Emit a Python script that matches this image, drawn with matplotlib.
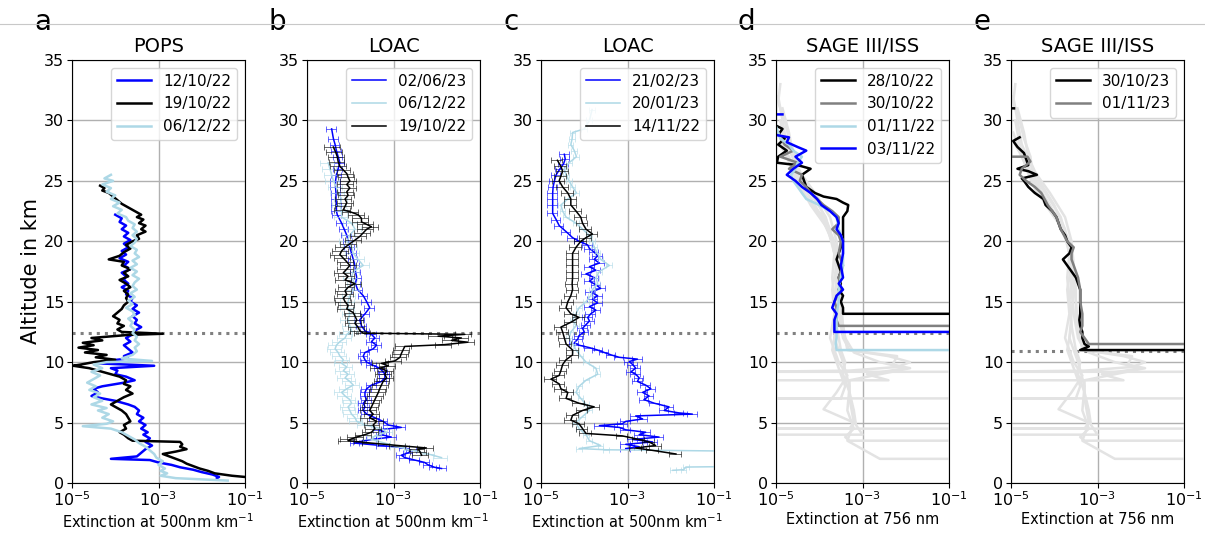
import numpy as np
import matplotlib.pyplot as plt
from matplotlib.lines import Line2D
from matplotlib.ticker import NullLocator

# extinction values are given as log10 exponents

# ---- panel a: POPS
a_121022_alt = [22.2, 21.9, 21.6, 21.3, 21.0, 20.7, 20.4, 20.1, 19.8, 19.5, 19.2, 18.9, 18.6, 18.3, 18.0, 17.7,
                17.4, 17.1, 16.8, 16.5, 16.2, 15.9, 15.6, 15.3, 15.0, 14.7, 14.4, 14.1, 13.8, 13.5, 13.2, 12.9,
                12.6, 12.3, 12.0, 11.7, 11.4, 11.1, 10.8, 10.5, 10.3, 10.1, 9.9, 9.7, 9.5, 9.3, 9.0, 8.8, 8.5,
                8.3, 8.0, 7.8, 7.5, 7.2, 7.0, 6.8, 6.5, 6.3, 6.0, 5.7, 5.4, 5.1, 4.8, 4.5, 4.2, 4.0, 3.7, 3.4,
                3.1, 2.8, 2.5, 2.2, 2.0, 1.9, 1.7, 1.5, 1.3, 1.1, 0.9, 0.7, 0.5, 0.4]
a_121022_ext = [-4.0, -3.85, -3.9, -3.75, -3.85, -3.7, -3.8, -3.65, -3.8, -3.7, -3.85, -3.75, -3.9, -3.7, -3.8,
                -3.65, -3.85, -3.75, -3.8, -3.7, -3.85, -3.7, -3.75, -3.6, -3.65, -3.5, -3.6, -3.45, -3.6, -3.5,
                -3.55, -3.4, -3.55, -3.6, -3.75, -3.65, -3.8, -3.7, -3.6, -3.8, -3.7, -4.2, -4.4, -3.1, -4.1,
                -3.95, -4.0, -3.75, -3.55, -3.8, -4.3, -4.5, -4.4, -4.55, -4.3, -4.0, -3.7, -3.55, -3.45, -3.5,
                -3.35, -3.45, -3.3, -3.4, -3.25, -3.35, -3.2, -3.3, -3.15, -3.3, -3.4, -3.5, -4.1, -3.2, -3.0,
                -2.7, -2.5, -2.2, -2.0, -1.75, -1.6, -1.65]

a_191022_alt = [24.6, 24.4, 24.2, 24.0, 23.7, 23.4, 23.1, 22.8, 22.5, 22.2, 22.0, 21.8, 21.5, 21.3, 21.0, 20.8,
                20.5, 20.2, 20.0, 19.7, 19.4, 19.1, 18.8, 18.5, 18.3, 18.0, 17.7, 17.4, 17.1, 16.8, 16.5, 16.2,
                15.9, 15.6, 15.3, 15.0, 14.7, 14.4, 14.1, 13.8, 13.5, 13.2, 13.0, 12.7, 12.5, 12.35, 12.25,
                12.0, 11.8, 11.6, 11.4, 11.2, 11.0, 10.8, 10.6, 10.4, 10.2, 10.0, 9.8, 9.7, 9.5, 9.3, 9.0, 8.8,
                8.5, 8.2, 8.0, 7.7, 7.4, 7.1, 6.8, 6.5, 6.2, 6.0, 5.7, 5.4, 5.1, 4.8, 4.5, 4.2, 4.0, 3.7, 3.5,
                3.4, 3.2, 3.0, 2.8, 2.6, 2.4, 2.2, 2.0, 1.8, 1.6, 1.4, 1.2, 1.0, 0.8, 0.6, 0.5, 0.4]
a_191022_ext = [-4.35, -4.25, -4.3, -4.15, -4.05, -3.95, -3.85, -3.7, -3.55, -3.4, -3.5, -3.35, -3.45, -3.3, -3.4,
                -3.3, -3.5, -3.45, -3.6, -3.75, -3.65, -3.8, -3.9, -4.15, -3.8, -3.85, -3.65, -3.8, -3.7, -3.9,
                -3.75, -3.65, -3.8, -3.7, -3.75, -3.7, -3.8, -3.85, -3.95, -4.05, -3.9, -3.95, -3.8, -3.95, -3.85,
                -2.9, -3.7, -4.55, -4.3, -4.75, -4.5, -4.85, -4.4, -4.7, -4.2, -4.45, -4.0, -4.5, -4.8, -4.97,
                -4.6, -4.4, -4.1, -3.9, -3.75, -3.8, -3.65, -3.75, -3.6, -3.8, -3.95, -4.1, -3.95, -3.85, -3.75,
                -3.7, -3.65, -3.8, -3.75, -3.9, -3.8, -3.7, -3.6, -2.5, -2.45, -2.5, -2.35, -2.6, -2.9, -2.75,
                -2.6, -2.45, -2.35, -2.2, -2.05, -1.85, -1.7, -1.3, -1.0, -0.9]

a_061222_alt = [25.5, 25.2, 25.0, 24.7, 24.4, 24.1, 23.8, 23.5, 23.2, 22.9, 22.6, 22.3, 22.0, 21.7, 21.4, 21.1,
                20.8, 20.5, 20.2, 19.9, 19.6, 19.3, 19.0, 18.7, 18.4, 18.1, 17.8, 17.5, 17.2, 16.9, 16.6, 16.3,
                16.0, 15.7, 15.4, 15.1, 14.8, 14.5, 14.2, 13.9, 13.6, 13.3, 13.0, 12.7, 12.4, 12.1, 11.8, 11.5,
                11.2, 10.9, 10.6, 10.3, 10.1, 10.0, 9.8, 9.5, 9.2, 8.9, 8.6, 8.3, 8.0, 7.7, 7.4, 7.1, 6.8, 6.5,
                6.2, 6.0, 5.7, 5.4, 5.1, 4.9, 4.7, 4.5, 4.2, 3.9, 3.6, 3.3, 3.0, 2.7, 2.4, 2.1, 1.8, 1.5, 1.2,
                1.0, 0.8, 0.6, 0.4, 0.2]
a_061222_ext = [-4.1, -4.25, -4.05, -4.3, -4.1, -4.2, -4.0, -4.1, -3.9, -4.05, -3.85, -3.95, -3.75, -3.7, -3.55,
                -3.6, -3.5, -3.6, -3.5, -3.55, -3.65, -3.5, -3.55, -3.45, -3.6, -3.5, -3.65, -3.5, -3.6, -3.45,
                -3.55, -3.6, -3.5, -3.65, -3.55, -3.7, -3.6, -3.75, -3.6, -3.55, -3.7, -3.6, -3.65, -3.55, -3.6,
                -3.5, -3.55, -3.45, -3.55, -3.5, -3.6, -3.85, -3.15, -4.2, -4.5, -4.3, -4.55, -4.35, -4.5, -4.65,
                -4.45, -4.6, -4.35, -4.5, -4.3, -4.55, -4.2, -4.4, -4.15, -4.3, -4.05, -4.2, -4.75, -4.1, -3.85,
                -3.7, -3.55, -3.45, -3.3, -3.2, -3.1, -3.05, -2.9, -3.0, -2.85, -2.95, -2.8, -2.95, -2.6, -1.4]

# ---- panel b: LOAC
b_020623_alt = [29.3, 28.5, 28.0, 27.5, 27.0, 26.5, 26.0, 25.5, 25.0, 24.5, 24.0, 23.5, 23.0, 22.5, 22.2, 21.5,
                21.0, 20.5, 20.0, 19.5, 19.0, 18.5, 18.0, 17.5, 17.0, 16.5, 16.0, 15.5, 15.0, 14.5, 14.0, 13.5,
                13.0, 12.6, 12.3, 12.0, 11.7, 11.4, 11.1, 10.8, 10.5, 10.2, 10.0, 9.8, 9.5, 9.2, 9.0, 8.7, 8.4,
                8.1, 7.8, 7.5, 7.2, 6.9, 6.6, 6.3, 6.0, 5.7, 5.4, 5.1, 4.8, 4.6, 4.4, 4.2, 4.0, 3.8, 3.6, 3.4,
                3.3, 3.1, 2.9, 2.7, 2.5, 2.3, 2.1, 1.9, 1.7, 1.5, 1.3, 1.2]
b_020623_ext = [-4.43, -4.39, -4.35, -4.32, -4.28, -4.24, -4.28, -4.32, -4.34, -4.34, -4.33, -4.33, -4.32, -4.32,
                -4.30, -4.2, -4.14, -4.08, -4.05, -4.01, -3.97, -3.93, -3.89, -3.88, -3.85, -3.88, -3.83, -3.7,
                -3.62, -3.55, -3.66, -3.78, -3.74, -3.66, -3.51, -3.43, -3.51, -3.39, -3.47, -3.66, -3.7, -3.66,
                -3.62, -3.51, -3.32, -3.24, -3.2, -3.2, -3.28, -3.51, -3.62, -3.66, -3.66, -3.62, -3.7, -3.66,
                -3.7, -3.62, -3.43, -3.24, -3.12, -2.82, -3.35, -3.2, -3.28, -3.05, -3.51, -3.82, -3.89, -3.28,
                -2.74, -2.58, -2.66, -2.82, -2.74, -2.51, -2.28, -2.2, -2.05, -1.89]
b_020623_err = 0.25

b_061222_alt = [26.5, 26.0, 25.5, 25.0, 24.5, 24.0, 23.5, 23.0, 22.5, 22.0, 21.5, 21.0, 20.5, 20.0, 19.5, 19.0,
                18.5, 18.0, 17.5, 17.0, 16.5, 16.0, 15.5, 15.0, 14.5, 14.0, 13.5, 13.0, 12.6, 12.3, 12.0, 11.7,
                11.4, 11.1, 10.8, 10.5, 10.2, 9.9, 9.6, 9.3, 9.0, 8.7, 8.4, 8.1, 7.8, 7.5, 7.2, 6.9, 6.6, 6.3,
                6.0, 5.7, 5.4, 5.1, 4.8, 4.5, 4.2, 3.9, 3.6, 3.3, 3.0, 2.7, 2.4, 2.1]
b_061222_ext = [-4.51, -4.47, -4.43, -4.39, -4.32, -4.28, -4.2, -4.24, -4.2, -4.2, -3.97, -3.89, -4.01, -4.08,
                -3.97, -3.93, -3.82, -3.7, -3.93, -3.97, -3.89, -3.93, -4.01, -4.05, -4.05, -4.01, -4.05, -4.01,
                -3.97, -4.08, -4.12, -4.24, -4.32, -4.35, -4.28, -4.24, -4.16, -4.2, -4.08, -4.16, -4.05, -4.12,
                -4.01, -3.93, -4.08, -4.2, -4.12, -4.01, -3.97, -4.05, -4.01, -3.97, -3.89, -3.85, -3.66, -3.28,
                -3.16, -3.43, -3.51, -3.2, -2.89, -2.58, -2.2, -1.89]
b_061222_err = 0.35

b_191022_alt = [27.8, 27.4, 27.0, 26.6, 26.2, 25.9, 25.6, 25.3, 25.0, 24.7, 24.4, 24.1, 23.8, 23.5, 23.2, 22.9,
                22.6, 22.4, 22.2, 21.9, 21.6, 21.4, 21.2, 21.0, 20.7, 20.4, 20.1, 19.8, 19.5, 19.2, 18.9, 18.6,
                18.3, 18.0, 17.7, 17.4, 17.1, 16.8, 16.5, 16.2, 15.9, 15.6, 15.3, 15.0, 14.7, 14.4, 14.1, 13.8,
                13.5, 13.2, 12.9, 12.6, 12.4, 12.3, 12.15, 12.0, 11.8, 11.65, 11.45, 11.3, 11.0, 10.7, 10.4,
                10.1, 9.9, 9.7, 9.5, 9.3, 9.0, 8.7, 8.4, 8.1, 7.8, 7.5, 7.2, 6.9, 6.6, 6.3, 6.0, 5.7, 5.4, 5.1,
                4.8, 4.5, 4.2, 4.0, 3.8, 3.6, 3.5, 3.3, 3.1, 2.9, 2.8, 2.6, 2.3]
b_191022_ext = [-4.39, -4.34, -4.3, -4.28, -4.24, -4.16, -4.08, -4.05, -4.01, -4.08, -4.01, -4.08, -4.05, -4.12,
                -4.08, -4.12, -4.16, -3.97, -3.82, -3.74, -3.74, -3.62, -3.51, -3.62, -3.7, -3.78, -3.89, -4.01,
                -4.12, -4.2, -4.24, -4.16, -4.08, -4.01, -4.08, -4.16, -4.05, -4.12, -3.89, -4.05, -4.12, -4.08,
                -4.16, -4.12, -4.05, -4.08, -3.93, -3.89, -3.85, -3.89, -3.82, -3.78, -3.7, -1.35, -1.97, -1.43,
                -1.66, -1.28, -1.82, -2.74, -2.78, -2.82, -2.85, -2.97, -3.28, -3.12, -3.32, -3.16, -3.2, -3.16,
                -3.24, -3.28, -3.32, -3.35, -3.39, -3.43, -3.47, -3.51, -3.55, -3.47, -3.55, -3.39, -3.47, -3.43,
                -3.51, -3.66, -3.85, -4.01, -4.05, -3.51, -2.89, -2.24, -2.43, -2.39, -2.35]
b_191022_err = 0.4

# ---- panel c: LOAC
c_210223_alt = [27.2, 26.8, 26.4, 26.0, 25.5, 25.0, 24.5, 24.0, 23.5, 23.0, 22.3, 21.8, 21.3, 20.8, 20.3, 20.0,
                19.7, 19.4, 19.1, 18.8, 18.5, 18.2, 17.9, 17.6, 17.3, 17.0, 16.7, 16.4, 16.1, 15.8, 15.5, 15.2,
                14.9, 14.6, 14.3, 14.0, 13.7, 13.4, 13.1, 12.8, 12.5, 12.2, 11.9, 11.6, 11.4, 11.2, 11.0, 10.8,
                10.6, 10.4, 10.25, 10.05, 9.8, 9.5, 9.2, 9.0, 8.7, 8.4, 8.1, 7.8, 7.5, 7.2, 6.9, 6.6, 6.3, 6.0,
                5.8, 5.7, 5.55, 5.3, 5.1, 4.9, 4.75, 4.6, 4.4, 4.2, 4.0, 3.8, 3.6, 3.4, 3.2, 3.0, 2.85]
c_210223_ext = [-4.46, -4.44, -4.48, -4.56, -4.65, -4.69, -4.72, -4.73, -4.73, -4.73, -4.73, -4.65, -4.58, -4.42,
                -4.27, -4.12, -3.92, -3.88, -3.77, -3.69, -3.77, -3.65, -3.88, -3.73, -3.96, -3.77, -3.88, -3.73,
                -3.62, -3.85, -3.69, -3.81, -3.69, -3.88, -3.73, -3.85, -3.92, -3.88, -3.96, -4.04, -4.0, -4.12,
                -4.15, -4.23, -4.12, -3.88, -3.69, -3.54, -3.38, -3.19, -2.77, -2.96, -2.88, -2.81, -2.92, -2.81,
                -2.73, -2.77, -2.58, -2.46, -2.65, -2.5, -2.62, -2.38, -2.04, -2.15, -1.81, -1.5, -2.81, -2.65,
                -3.04, -3.12, -3.65, -3.19, -3.04, -2.58, -2.73, -2.27, -2.88, -2.42, -3.04, -2.73, -3.04]
c_210223_err = 0.25

c_200123_alt = [30.9, 30.0, 29.3, 29.0, 28.5, 28.0, 27.5, 27.0, 26.5, 26.0, 25.5, 25.0, 24.5, 24.0, 23.5, 23.0,
                22.5, 22.0, 21.5, 21.0, 20.5, 20.0, 19.5, 19.0, 18.5, 18.0, 17.5, 17.0, 16.5, 16.0, 15.5, 15.0,
                14.5, 14.0, 13.5, 13.0, 12.5, 12.0, 11.5, 11.0, 10.5, 10.0, 9.5, 9.0, 8.5, 8.0, 7.5, 7.0, 6.5,
                6.0, 5.5, 5.0, 4.5, 4.0, 3.5, 3.1, 2.85, 2.75, 2.65, 1.35, 1.32, 1.1, 1.05]
c_200123_ext = [-3.82, -3.88, -4.0, -4.27, -4.28, -4.31, -4.23, -4.18, -4.35, -4.46, -4.42, -4.35, -4.27, -4.18,
                -4.38, -4.54, -4.5, -4.42, -4.19, -4.04, -3.88, -3.81, -3.77, -3.69, -3.62, -3.42, -3.65, -3.73,
                -3.69, -3.81, -3.85, -3.96, -4.12, -4.19, -4.27, -4.19, -4.31, -4.35, -4.27, -4.19, -4.08, -3.96,
                -3.73, -3.69, -3.96, -4.12, -4.19, -4.08, -3.96, -3.88, -4.04, -4.19, -4.12, -3.96, -3.88, -3.62,
                -4.12, -3.5, -0.9, -0.9, -1.65, -1.7, -1.95]
c_200123_err = 0.15

c_141122_alt = [26.7, 26.2, 25.8, 25.4, 25.0, 24.5, 24.0, 23.5, 23.0, 22.5, 22.0, 21.5, 21.0, 20.6, 20.3, 20.0,
                19.5, 19.0, 18.5, 18.0, 17.5, 17.0, 16.5, 16.0, 15.5, 15.0, 14.5, 14.0, 13.7, 13.3, 12.9, 12.5,
                12.0, 11.5, 11.0, 10.6, 10.2, 9.8, 9.3, 8.9, 8.6, 8.2, 7.8, 7.5, 7.0, 6.6, 6.3, 6.0, 5.6, 5.2,
                4.9, 4.5, 4.1, 3.9, 3.6, 3.4, 3.1, 2.9, 2.7, 2.4]
c_141122_ext = [-4.62, -4.54, -4.5, -4.54, -4.58, -4.5, -4.38, -4.31, -4.31, -4.19, -4.08, -4.04, -3.96, -3.81,
                -3.96, -4.08, -4.19, -4.27, -4.27, -4.27, -4.27, -4.27, -4.28, -4.27, -4.31, -4.38, -4.42, -4.31,
                -4.12, -4.31, -4.54, -4.5, -4.46, -4.42, -4.27, -4.27, -4.42, -4.5, -4.54, -4.58, -4.77, -4.58,
                -4.54, -4.38, -4.42, -4.12, -3.77, -4.04, -4.27, -4.31, -4.12, -4.04, -3.96, -3.12, -2.73, -2.5,
                -2.35, -2.81, -2.42, -1.88]
c_141122_err = 0.3

# ---- panels d, e: SAGE III/ISS background profiles (light grey)
bg_alt = [
    [33, 31.5, 30, 28.5, 27, 25.5, 24, 22, 20, 18, 16, 14, 12, 11, 10.5, 10, 9.6, 9.3, 9.2, 9.2],
    [32, 30, 28, 26, 24, 22, 20, 18, 16, 14, 12, 10.8, 10, 9.5, 9.0, 8.5, 8.5],
    [31, 29, 27, 25, 23, 21, 19, 17, 15, 13, 11, 9.5, 8.0, 7.0, 7.0, 7.0],
    [30, 28, 26, 24, 22, 20, 18, 16, 14, 12, 10, 8.9, 7.5, 6.1, 5.0, 4.5, 4.5, 4.5],
    [29, 27, 25, 23, 21, 19, 17, 15, 13, 11, 10, 9, 7.5, 6, 4.8, 4.0, 4.0],
    [28, 26, 24, 22, 20, 18, 16, 14, 12, 10, 8, 6, 4.5, 3.8, 3.5, 3.5],
    [27, 25, 23, 21, 19, 17, 15, 13, 11, 10.5, 9.8, 9.5, 8.5, 7, 5, 3.5, 2.0, 2.0],
]
bg_ext = [
    [-4.9, -4.95, -4.8, -4.7, -4.55, -4.5, -4.2, -3.85, -3.7, -3.6, -3.6, -3.55, -3.45, -3.3, -2.4, -1.9, -2.2,
     -3.3, -5.5, -0.5],
    [-4.95, -4.85, -4.75, -4.5, -4.1, -3.75, -3.6, -3.55, -3.5, -3.5, -3.4, -3.2, -2.6, -2.0, -2.9, -2.4, -5.5],
    [-4.85, -4.7, -4.6, -4.35, -4.0, -3.75, -3.65, -3.6, -3.65, -3.6, -3.7, -3.55, -3.4, -3.5, -5.5, -0.5],
    [-4.9, -4.8, -4.65, -4.4, -3.9, -3.65, -3.6, -3.7, -3.65, -3.75, -3.55, -3.35, -3.6, -3.9, -3.2, -3.3, -5.5,
     -0.5],
    [-4.95, -4.75, -4.5, -4.2, -3.8, -3.65, -3.7, -3.65, -3.6, -3.5, -3.4, -3.45, -3.3, -3.2, -3.15, -3.0, -5.5],
    [-4.9, -4.6, -4.35, -3.95, -3.7, -3.6, -3.55, -3.6, -3.65, -3.45, -3.3, -3.35, -3.2, -3.4, -3.3, -0.5],
    [-4.7, -4.45, -4.1, -3.8, -3.6, -3.55, -3.5, -3.45, -3.35, -2.2, -2.3, -1.9, -3.3, -3.3, -3.2, -3.35, -2.6,
     -0.5],
]

d_281022_alt = [29.5, 29.3, 28.8, 28.5, 28.0, 27.5, 27.0, 26.5, 26.3, 26.0, 25.5, 25.0, 24.5, 24.0, 23.7, 23.5,
                23.2, 23.0, 22.5, 22.0, 21.0, 20.0, 19.5, 19.0, 18.5, 18.0, 17.5, 17.0, 16.5, 16.0, 15.5, 15.0,
                14.5, 14.0, 14.0]
d_281022_ext = [-4.96, -4.85, -4.95, -4.8, -4.95, -4.75, -4.95, -4.98, -4.5, -4.2, -4.4, -4.35, -4.3, -4.1, -3.9,
                -3.6, -3.45, -3.33, -3.35, -3.45, -3.45, -3.45, -3.5, -3.55, -3.6, -3.55, -3.5, -3.55, -3.5,
                -3.55, -3.45, -3.5, -3.45, -3.45, -0.5]
d_301022_alt = [29.0, 28.0, 27.5, 27.0, 26.5, 26.0, 25.5, 25.0, 24.5, 24.0, 23.0, 22.5, 22.0, 21.5, 21.0, 20.5,
                20.0, 19.0, 18.0, 17.0, 16.0, 15.0, 14.5, 14.0, 13.5, 13.0, 13.0]
d_301022_ext = [-4.95, -4.8, -4.6, -4.9, -4.5, -4.7, -4.4, -4.45, -4.3, -4.2, -3.9, -3.7, -3.55, -3.55, -3.7, -3.55,
                -3.5, -3.55, -3.45, -3.55, -3.5, -3.65, -3.6, -3.6, -3.6, -3.55, -0.5]
d_011122_alt = [29.5, 28.5, 28.0, 27.5, 27.0, 26.5, 26.0, 25.5, 25.0, 24.5, 24.0, 23.5, 23.0, 22.5, 22.0, 21.0,
                20.0, 19.0, 18.0, 17.0, 16.0, 15.0, 14.0, 13.0, 12.0, 11.5, 11.0, 11.0]
d_011122_ext = [-5.0, -4.9, -4.7, -4.6, -4.4, -4.5, -4.55, -4.65, -4.6, -4.5, -4.4, -4.3, -4.0, -3.75, -3.6, -3.55,
                -3.45, -3.45, -3.45, -3.5, -3.55, -3.55, -3.6, -3.6, -3.6, -3.62, -3.6, -0.5]
d_031122_alt = [30.5, 30.5, None, 28.8, 28.6, 28.2, 27.8, 27.5, 27.0, 26.5, 26.0, 25.5, 25.0, 24.5, 24.0, 23.5,
                23.0, 22.5, 22.0, 21.5, 21.0, 20.5, 20.0, 19.0, 18.0, 17.0, 16.5, 16.0, 15.5, 15.0, 14.5, 14.0,
                13.5, 13.0, 12.5, 12.5]
d_031122_ext = [-5.0, -4.85, None, -5.0, -4.7, -4.75, -4.5, -4.3, -4.55, -4.4, -4.6, -4.75, -4.55, -4.4, -4.2,
                -4.05, -3.95, -3.75, -3.6, -3.55, -3.6, -3.5, -3.45, -3.45, -3.5, -3.45, -3.55, -3.45, -3.6, -3.65,
                -3.7, -3.6, -3.65, -3.65, -3.65, -0.5]

e_301023_alt = [31.0, 31.0, None, 28.6, 28.3, 27.8, 27.3, 26.8, 26.3, 26.0, 25.8, 25.5, 25.2, 25.0, 24.5, 24.0,
                23.5, 23.0, 22.5, 22.0, 21.5, 21.0, 20.5, 20.0, 19.5, 19.0, 18.5, 18.0, 17.5, 17.0, 16.5, 16.0,
                15.0, 14.0, 13.5, 13.0, 12.5, 12.0, 11.5, 11.3, 11.0, 11.0]
e_301023_ext = [-5.0, -4.93, None, -4.8, -4.95, -4.85, -4.7, -4.65, -4.6, -4.85, -4.6, -4.4, -4.75, -4.7, -4.6,
                -4.45, -4.25, -4.2, -4.05, -3.95, -3.9, -3.85, -3.75, -3.7, -3.6, -3.65, -3.8, -3.7, -3.6, -3.5,
                -3.45, -3.4, -3.4, -3.4, -3.42, -3.4, -3.35, -3.35, -3.3, -3.2, -3.4, -0.5]
e_011123_alt = [28.0, 27.0, 27.0, 26.6, 26.0, 25.5, 25.0, 24.5, 24.0, 23.0, 22.0, 21.0, 20.0, 19.5, 19.0, 18.5,
                18.0, 17.0, 16.0, 15.0, 14.0, 13.0, 12.5, 12.0, 11.5, 11.5]
e_011123_ext = [-5.0, -5.0, -4.62, -4.55, -4.75, -4.8, -4.65, -4.45, -4.3, -4.15, -3.95, -3.85, -3.7, -3.55, -3.6,
                -3.6, -3.55, -3.45, -3.4, -3.4, -3.35, -3.35, -3.4, -3.3, -3.2, -0.5]

tropopause = [12.4, 12.4, 12.4, 12.4, 10.9]
titles = ['POPS', 'LOAC', 'LOAC', 'SAGE III/ISS', 'SAGE III/ISS']
letters = ['a', 'b', 'c', 'd', 'e']
xlabels = ['Extinction at 500nm km$^{-1}$'] * 3 + ['Extinction at 756 nm'] * 2


def ext(vals):
    return np.array([np.nan if v is None else 10.0 ** v for v in vals])


def alt(vals):
    return np.array([np.nan if v is None else v for v in vals], dtype=float)


def loac(ax, a, e, rel, color, label):
    x = ext(e)
    ax.plot(x, alt(a), color=color, lw=1.1, label=label)
    eb = ax.errorbar(x, alt(a), xerr=[x * rel, x * rel], fmt='none', ecolor=color,
                     elinewidth=0.7, capsize=2.5, capthick=0.7)
    for c in eb[1] + eb[2]:
        c.set_alpha(0.6)


fig = plt.figure(figsize=(12.05, 5.33), dpi=100)
lefts = [72, 307, 541, 776, 1011]
axes = [fig.add_axes([l / 1205, 50 / 533, 173 / 1205, 423 / 533]) for l in lefts]

ax = axes[0]
ax.plot(ext(a_121022_ext), alt(a_121022_alt), color='blue', lw=1.8, label='12/10/22')
ax.plot(ext(a_191022_ext), alt(a_191022_alt), color='black', lw=1.8, label='19/10/22')
ax.plot(ext(a_061222_ext), alt(a_061222_alt), color='lightblue', lw=1.8, label='06/12/22')

ax = axes[1]
loac(ax, b_020623_alt, b_020623_ext, b_020623_err, 'blue', '02/06/23')
loac(ax, b_061222_alt, b_061222_ext, b_061222_err, 'lightblue', '06/12/22')
loac(ax, b_191022_alt, b_191022_ext, b_191022_err, 'black', '19/10/22')

ax = axes[2]
loac(ax, c_210223_alt, c_210223_ext, c_210223_err, 'blue', '21/02/23')
loac(ax, c_200123_alt, c_200123_ext, c_200123_err, 'lightblue', '20/01/23')
loac(ax, c_141122_alt, c_141122_ext, c_141122_err, 'black', '14/11/22')

for ax in axes[3:]:
    for ba, be in zip(bg_alt, bg_ext):
        ax.plot(ext(be), alt(ba), color='#e3e3e3', lw=1.8)

ax = axes[3]
ax.plot(ext(d_281022_ext), alt(d_281022_alt), color='black', lw=1.8, label='28/10/22')
ax.plot(ext(d_301022_ext), alt(d_301022_alt), color='gray', lw=1.8, label='30/10/22')
ax.plot(ext(d_011122_ext), alt(d_011122_alt), color='lightblue', lw=1.8, label='01/11/22')
ax.plot(ext(d_031122_ext), alt(d_031122_alt), color='blue', lw=1.8, label='03/11/22')

ax = axes[4]
ax.plot(ext(e_301023_ext), alt(e_301023_alt), color='black', lw=1.8, label='30/10/23')
ax.plot(ext(e_011123_ext), alt(e_011123_alt), color='gray', lw=1.8, label='01/11/23')

for i, ax in enumerate(axes):
    ax.axhline(tropopause[i], color='gray', ls=':', lw=2.2, zorder=1.5)
    ax.set_xscale('log')
    ax.set_xlim(1e-5, 1e-1)
    ax.set_ylim(0, 35)
    ax.set_xticks([1e-5, 1e-3, 1e-1])
    ax.xaxis.set_minor_locator(NullLocator())
    ax.set_yticks(range(0, 36, 5))
    ax.grid(True, color='#b0b0b0', lw=1)
    ax.set_axisbelow(True)
    ax.tick_params(labelsize=11.5, pad=2)
    ax.set_title(titles[i], fontsize=14, pad=6)
    ax.set_xlabel(xlabels[i], fontsize=10.5, labelpad=2)
    ax.legend(loc='upper right', fontsize=11, handlelength=2.2)
    ax.text(-0.17, 1.09, letters[i], transform=ax.transAxes, fontsize=20, va='center', ha='center')

axes[0].set_ylabel('Altitude in km', fontsize=15, labelpad=2)

fig.add_artist(Line2D([0, 1], [1 - 24 / 533, 1 - 24 / 533], color='#c8c8c8', lw=0.8))

fig.savefig('out.png', dpi=100)
